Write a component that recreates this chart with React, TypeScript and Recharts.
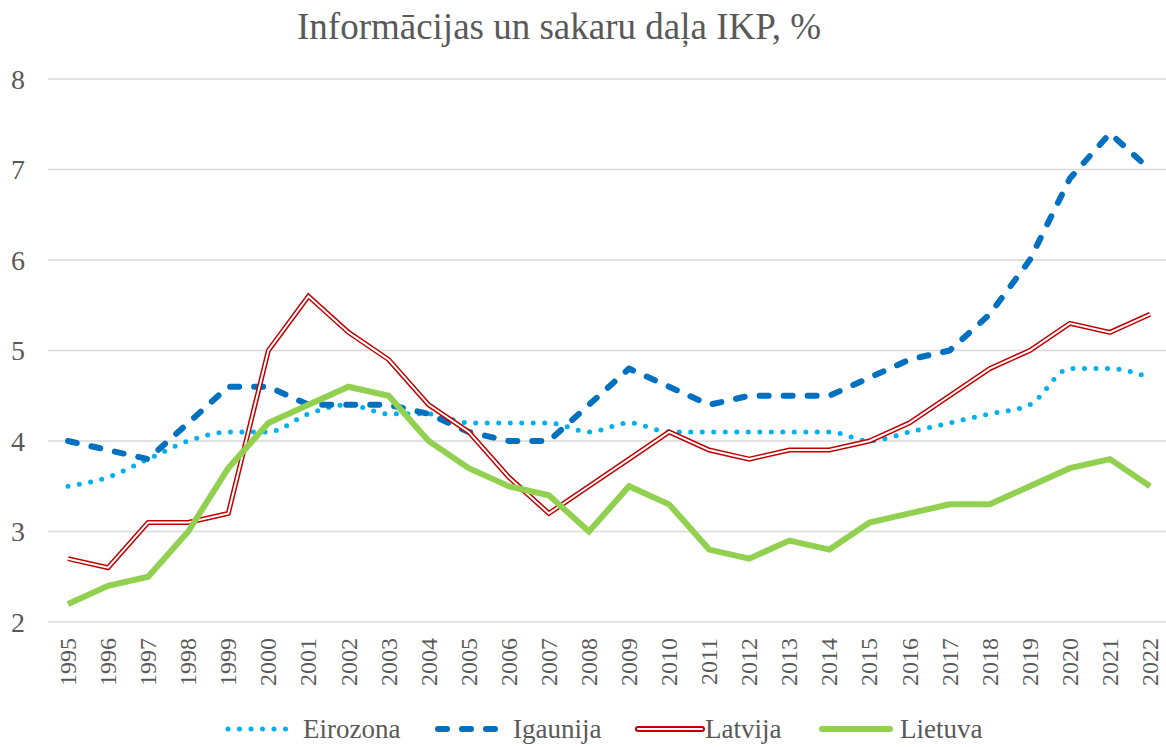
import React from 'react';
import {
  LineChart,
  Line,
  XAxis,
  YAxis,
  CartesianGrid,
  Legend,
} from 'recharts';

const years = [
  '1995', '1996', '1997', '1998', '1999', '2000', '2001', '2002', '2003', '2004',
  '2005', '2006', '2007', '2008', '2009', '2010', '2011', '2012', '2013', '2014',
  '2015', '2016', '2017', '2018', '2019', '2020', '2021', '2022',
];

const eirozona = [
  3.5, 3.6, 3.8, 4.0, 4.1, 4.1, 4.3, 4.4, 4.3, 4.3,
  4.2, 4.2, 4.2, 4.1, 4.2, 4.1, 4.1, 4.1, 4.1, 4.1,
  4.0, 4.1, 4.2, 4.3, 4.4, 4.8, 4.8, 4.7,
];
const igaunija = [
  4.0, 3.9, 3.8, 4.2, 4.6, 4.6, 4.4, 4.4, 4.4, 4.3,
  4.1, 4.0, 4.0, 4.4, 4.8, 4.6, 4.4, 4.5, 4.5, 4.5,
  4.7, 4.9, 5.0, 5.4, 6.0, 6.9, 7.4, 7.0,
];
const latvija = [
  2.7, 2.6, 3.1, 3.1, 3.2, 5.0, 5.6, 5.2, 4.9, 4.4,
  4.1, 3.6, 3.2, 3.5, 3.8, 4.1, 3.9, 3.8, 3.9, 3.9,
  4.0, 4.2, 4.5, 4.8, 5.0, 5.3, 5.2, 5.4,
];
const lietuva = [
  2.2, 2.4, 2.5, 3.0, 3.7, 4.2, 4.4, 4.6, 4.5, 4.0,
  3.7, 3.5, 3.4, 3.0, 3.5, 3.3, 2.8, 2.7, 2.9, 2.8,
  3.1, 3.2, 3.3, 3.3, 3.5, 3.7, 3.8, 3.5,
];

const yTicks = [2, 3, 4, 5, 6, 7, 8];

const data = years.map((year, i) => ({
  year,
  Eirozona: eirozona[i],
  Igaunija: igaunija[i],
  Latvija: latvija[i],
  Lietuva: lietuva[i],
}));

const FONT = '"Liberation Serif", "Times New Roman", serif';
const TEXT = '#595959';

// vertical year labels, read bottom to top, ending just under the axis
const YearTick = (props: any) => {
  const { x, y, payload } = props;
  return (
    <g transform={`translate(${x},${y})`}>
      <text
        transform="rotate(-90)"
        x={-16}
        y={8}
        textAnchor="end"
        fontSize={24}
        fill={TEXT}
        fontFamily={FONT}
      >
        {payload.value}
      </text>
    </g>
  );
};

// legend drawn by hand so the Latvija double line looks right
// (the legend box sits 8px in, because of the chart's left margin)
const LegendContent = () => {
  const items = [
    { name: 'Eirozona', x: 217, textX: 295 },
    { name: 'Igaunija', x: 427, textX: 505 },
    { name: 'Latvija', x: 628, textX: 697 },
    { name: 'Lietuva', x: 814, textX: 892 },
  ];
  return (
    <svg width={1158} height={40} style={{ display: 'block' }}>
      {items.map((it) => {
        const y = 22;
        let icon = null;
        if (it.name === 'Eirozona') {
          icon = (
            <line x1={it.x + 3} x2={it.x + 68} y1={y} y2={y} stroke="#00b0f0" strokeWidth={5}
              strokeDasharray="0 11.5" strokeLinecap="round" />
          );
        } else if (it.name === 'Igaunija') {
          icon = (
            <line x1={it.x + 3} x2={it.x + 68} y1={y} y2={y} stroke="#0070c0" strokeWidth={6}
              strokeDasharray="9 15" strokeLinecap="round" />
          );
        } else if (it.name === 'Latvija') {
          icon = (
            <g>
              <line x1={it.x + 2} x2={it.x + 66} y1={y} y2={y} stroke="#c00000" strokeWidth={6} strokeLinecap="round" />
              <line x1={it.x + 2} x2={it.x + 66} y1={y} y2={y} stroke="#fff" strokeWidth={2} strokeLinecap="round" />
            </g>
          );
        } else {
          icon = (
            <line x1={it.x} x2={it.x + 68} y1={y} y2={y} stroke="#92d050" strokeWidth={6} strokeLinecap="round" />
          );
        }
        return (
          <g key={it.name}>
            {icon}
            <text x={it.textX} y={y + 9} fontSize={27} fill={TEXT} fontFamily={FONT}>
              {it.name}
            </text>
          </g>
        );
      })}
    </svg>
  );
};

const App: React.FC = () => {
  return (
    <div style={{ position: 'absolute', left: 0, top: 0, width: 1166, height: 747, background: '#fff' }}>
      <div
        style={{
          position: 'absolute',
          top: 5,
          left: 0,
          width: 1118,
          textAlign: 'center',
          fontFamily: FONT,
          fontSize: 37,
          color: TEXT,
        }}
      >
        Informācijas un sakaru daļa IKP, %
      </div>
      <LineChart
        width={1166}
        height={747}
        data={data}
        margin={{ top: 79, right: 0, left: 8, bottom: 0 }}
      >
        <CartesianGrid vertical={false} stroke="#d9d9d9" strokeWidth={1.5} />
        <XAxis
          dataKey="year"
          interval={0}
          axisLine={false}
          tickLine={false}
          tickSize={0}
          tickMargin={0}
          padding={{ left: 20, right: 16 }}
          height={85}
          tick={<YearTick />}
        />
        <YAxis
          domain={[2, 8]}
          ticks={yTicks}
          interval={0}
          axisLine={false}
          tickLine={false}
          tickSize={0}
          tickMargin={23}
          width={40}
          tick={{ fill: TEXT, fontSize: 28, fontFamily: FONT }}
        />
        <Legend verticalAlign="bottom" height={40} content={<LegendContent />} />
        <Line
          dataKey="Eirozona"
          type="monotone"
          stroke="#00b0f0"
          strokeWidth={5}
          strokeDasharray="0 11.5"
          strokeLinecap="round"
          dot={false}
          isAnimationActive={false}
        />
        <Line
          dataKey="Igaunija"
          type="linear"
          stroke="#0070c0"
          strokeWidth={6}
          strokeDasharray="9 15"
          strokeLinecap="round"
          strokeLinejoin="round"
          dot={false}
          isAnimationActive={false}
        />
        <Line
          dataKey="Latvija"
          type="linear"
          stroke="#c00000"
          strokeWidth={5}
          dot={false}
          isAnimationActive={false}
        />
        <Line
          dataKey="Latvija"
          name="Latvija-inner"
          type="linear"
          stroke="#ffffff"
          strokeWidth={2}
          dot={false}
          legendType="none"
          isAnimationActive={false}
        />
        <Line
          dataKey="Lietuva"
          type="linear"
          stroke="#92d050"
          strokeWidth={6}
          dot={false}
          isAnimationActive={false}
        />
      </LineChart>
    </div>
  );
};

export default App;
